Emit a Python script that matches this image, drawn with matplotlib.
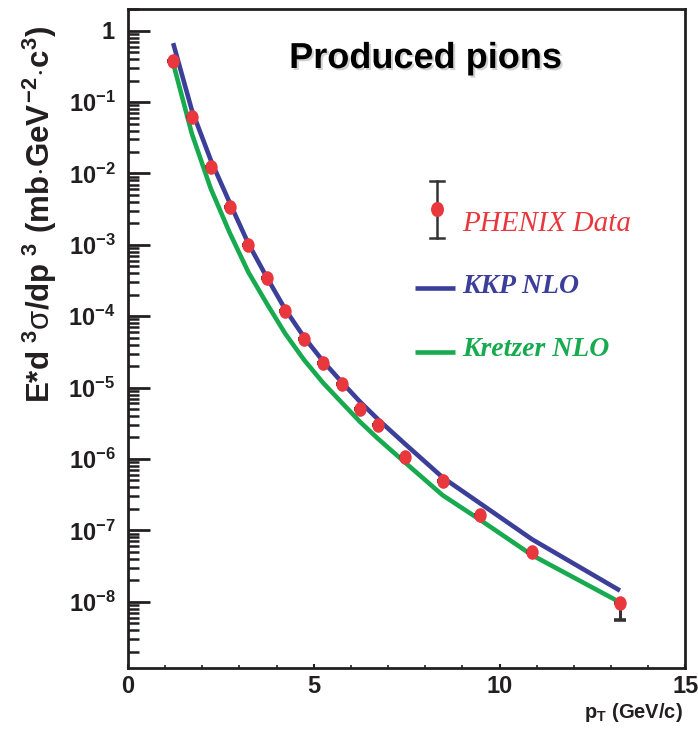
import numpy as np
import matplotlib
matplotlib.use("Agg")
import matplotlib.pyplot as plt
from matplotlib.ticker import FixedLocator, FixedFormatter, LogLocator, NullFormatter, MultipleLocator
from matplotlib.path import Path
from matplotlib.transforms import Affine2D
import matplotlib.patheffects as pe

plt.rcParams["mathtext.fontset"] = "custom"
plt.rcParams["mathtext.rm"] = "Liberation Sans:bold"
plt.rcParams["mathtext.it"] = "Liberation Sans:bold"
plt.rcParams["mathtext.bf"] = "Liberation Sans:bold"
plt.rcParams["mathtext.sf"] = "Liberation Sans"
plt.rcParams["font.family"] = ["Liberation Sans", "DejaVu Sans"]

# PHENIX pi0 invariant cross section
pt = [1.22, 1.72, 2.23, 2.74, 3.24, 3.74, 4.23, 4.74, 5.25, 5.75,
      6.25, 6.74, 7.46, 8.47, 9.47, 10.87, 13.24]
phenix = [0.376, 0.0612, 0.0122, 3.37e-3, 9.95e-4, 3.40e-4, 1.18e-4, 4.80e-5,
          2.19e-5, 1.11e-5, 5.0e-6, 2.99e-6, 1.08e-6, 4.91e-7, 1.64e-7,
          5.02e-8, 9.7e-9]
phenix_err_low = [0, 0, 0, 0, 0, 0, 0, 0, 0, 0, 0, 0, 0, 0, 0, 0, 4.2e-9]
phenix_err_high = [0] * 17

# NLO pQCD predictions with two fragmentation function sets
kkp_nlo = [0.67, 0.078, 0.0155, 3.9e-3, 1.05e-3, 3.5e-4, 1.26e-4, 5.1e-5,
           2.35e-5, 1.2e-5, 6.3e-6, 3.55e-6, 1.62e-6, 5.5e-7, 2.4e-7,
           7.5e-8, 1.43e-8]
kretzer_nlo = [0.352, 0.0365, 6.17e-3, 1.48e-3, 4.17e-4, 1.50e-4, 5.75e-5,
               2.45e-5, 1.17e-5, 6.2e-6, 3.3e-6, 1.9e-6, 8.9e-7, 3.1e-7,
               1.41e-7, 4.5e-8, 9.8e-9]

ytick_vals = [1e-8, 1e-7, 1e-6, 1e-5, 1e-4, 1e-3, 1e-2, 1e-1, 1]
ytick_text = [r"$10^{-8}$", r"$10^{-7}$", r"$10^{-6}$", r"$10^{-5}$",
              r"$10^{-4}$", r"$10^{-3}$", r"$10^{-2}$", r"$10^{-1}$", r"$1$"]
xtick_vals = [0, 5, 10, 15]

RED = "#e8373d"
BLUE = "#3b3f99"
GREEN = "#17aa4f"
FRAME = "#231f20"

# slightly tall elliptical marker
ellipse = Path.unit_circle().transformed(Affine2D().scale(1.0, 1.18))

fig = plt.figure(figsize=(6.98, 7.34), dpi=100)
ax = fig.add_axes([0.1831, 0.0895, 0.7989, 0.8982])
ax.set_xlim(0, 15)
ax.set_yscale("log")
ax.set_ylim(1.166e-9, 2.014)

ax.plot(pt, kretzer_nlo, color=GREEN, lw=3.3, solid_capstyle="butt", zorder=3)
ax.plot(pt, kkp_nlo, color=BLUE, lw=3.3, solid_capstyle="butt", zorder=3)
ax.errorbar(pt, phenix, yerr=[phenix_err_low, phenix_err_high], fmt="none",
            ecolor="#333333", elinewidth=2.2, capsize=4, capthick=2.6, zorder=4)
ax.plot(pt, phenix, linestyle="none", marker=ellipse, markersize=10.5,
        color=RED, markeredgewidth=0, zorder=5)

for s in ax.spines.values():
    s.set_linewidth(2.0)
    s.set_color(FRAME)

ax.yaxis.set_major_locator(FixedLocator(ytick_vals))
ax.yaxis.set_major_formatter(FixedFormatter(ytick_text))
ax.yaxis.set_minor_locator(LogLocator(base=10, subs=np.arange(2, 10) * 1.0, numticks=20))
ax.yaxis.set_minor_formatter(NullFormatter())
ax.tick_params(axis="y", which="major", direction="in", length=16, width=2.0,
               color=FRAME, labelsize=17, pad=9, labelcolor=FRAME, right=False)
ax.tick_params(axis="y", which="minor", direction="in", length=8, width=1.8,
               color=FRAME, right=False)

ax.xaxis.set_major_locator(FixedLocator(xtick_vals))
ax.xaxis.set_major_formatter(FixedFormatter([str(v) for v in xtick_vals]))
ax.xaxis.set_minor_locator(MultipleLocator(1))
ax.tick_params(axis="x", which="major", direction="in", length=3, width=1.5,
               color=FRAME, labelsize=17, pad=5, labelcolor=FRAME, top=False)
ax.tick_params(axis="x", which="minor", direction="in", length=2.5, width=1.2,
               color=FRAME, top=False)
for lab in ax.get_xticklabels():
    lab.set_fontweight("bold")

fig.text(40 / 698, 1 - 214 / 734,
         r"$E{*}d^{\ 3}\mathsf{\sigma}/dp^{\ 3}\ (mb{\cdot}GeV^{-2}{\cdot}c^{3})$",
         rotation=90, ha="center", va="center", fontsize=22.5, color=FRAME)
fig.text(683 / 698, 1 - 712 / 734, r"$p_{T}\ (GeV/c)$", ha="right", va="center",
         fontsize=14.5, color=FRAME)

fig.text(425.5 / 698, 1 - 68 / 734, "Produced pions", ha="center", va="baseline",
         fontsize=26, fontweight="bold", color="black",
         path_effects=[pe.withSimplePatchShadow(offset=(1.5, -1.5), shadow_rgbFace="0.5", alpha=0.35)])

# legend drawn in figure pixel coordinates
def fx(px):
    return px / 698

def fy(py):
    return 1 - py / 734

lx = fx(436.7)
fig.add_artist(plt.Line2D([lx, lx], [fy(181), fy(238)], color="#333333", lw=1.8, transform=fig.transFigure))
fig.add_artist(plt.Line2D([fx(430), fx(443.5)], [fy(181), fy(181)], color="#333333", lw=1.8, transform=fig.transFigure))
fig.add_artist(plt.Line2D([fx(430), fx(443.5)], [fy(238), fy(238)], color="#333333", lw=1.8, transform=fig.transFigure))
fig.add_artist(plt.Line2D([lx], [fy(209)], linestyle="none", marker=ellipse, markersize=11,
                          color=RED, markeredgewidth=0, transform=fig.transFigure))
fig.text(fx(462), fy(224), "PHENIX Data", ha="left", va="center", fontsize=21,
         family="Liberation Serif", style="italic", color=RED)

fig.add_artist(plt.Line2D([fx(415), fx(455)], [fy(288), fy(288)], color=BLUE, lw=3.3,
                          solid_capstyle="butt", transform=fig.transFigure))
fig.text(fx(462), fy(287), "KKP NLO", ha="left", va="center", fontsize=20,
         family="Liberation Serif", style="italic", fontweight="bold", color=BLUE)

fig.add_artist(plt.Line2D([fx(415), fx(455)], [fy(352), fy(352)], color=GREEN, lw=3.3,
                          solid_capstyle="butt", transform=fig.transFigure))
fig.text(fx(462), fy(349), "Kretzer NLO", ha="left", va="center", fontsize=20,
         family="Liberation Serif", style="italic", fontweight="bold", color=GREEN)

fig.savefig("out.png", dpi=100)
